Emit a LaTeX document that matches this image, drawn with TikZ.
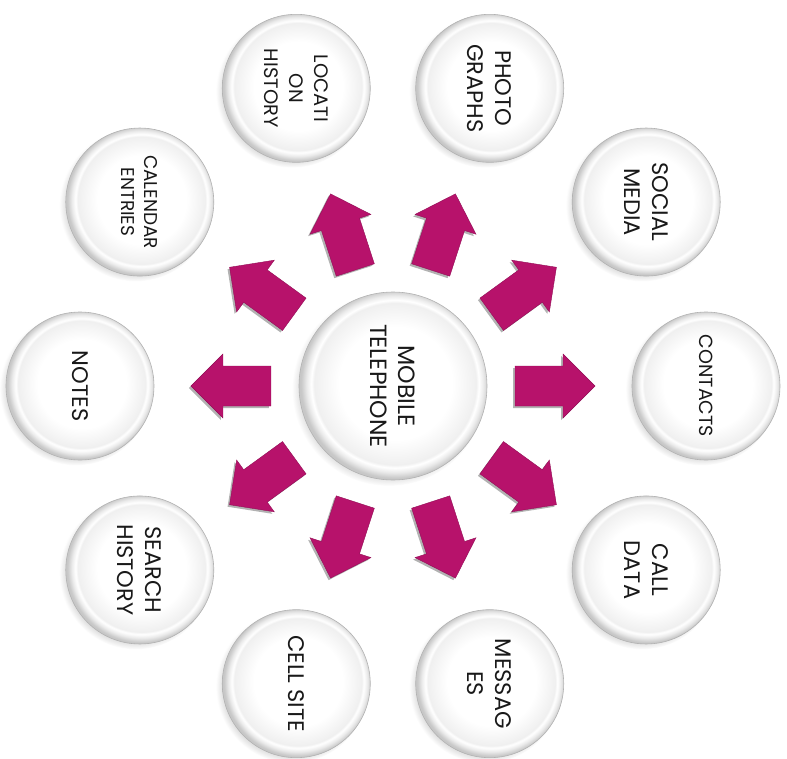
\documentclass[tikz,border=0pt]{standalone}
\usepackage{fontspec}
\setmainfont{Poppins}
\usetikzlibrary{shadows,shadings}

\definecolor{pushpink}{RGB}{183,18,107}
\pgfdeclareradialshading{button}{\pgfpoint{1bp}{1bp}}{color(0bp)=(white); color(15bp)=(white); color(21.5bp)=(black!6); color(22.3bp)=(white); color(23.5bp)=(black!8); color(25bp)=(black!22); color(50bp)=(black!22)}

\tikzset{
  pics/push/.style={code={
    \fill[black,opacity=.3,xshift=-2pt,yshift=-2pt,rotate=#1]
      (-40,-20) -- (8,-20) -- (8,-32) -- (40,0) -- (8,32) -- (8,20) -- (-40,20) -- cycle;
    \filldraw[fill=pushpink,draw=pushpink!80!black,line width=.4pt,rotate=#1]
      (-40,-20) -- (8,-20) -- (8,-32) -- (40,0) -- (8,32) -- (8,20) -- (-40,20) -- cycle;
  }}
}

\begin{document}
\begin{tikzpicture}[x=1pt,y=1pt,
  button/.style={circle,inner sep=0pt,draw=black!30,line width=.6pt,shading=button,
    circular drop shadow={shadow xshift=-4pt,shadow yshift=-3pt,shadow scale=1.03,opacity=.4}},
  hub/.style={button,minimum size=188pt},
  item/.style={button,minimum size=148pt},
  caption/.style={rotate=-90,align=center,text=black!90,inner sep=0pt}]

\useasboundingbox (-393,-372) rectangle (394,386);

\node[hub] (phone) at (0,0) {};
\node[caption,font=\fontsize{23.5}{28}\selectfont] (phone-txt) at (phone) {MOBILE\\TELEPHONE};

% data sources round the phone
\foreach \a/\n/\t/\s/\b in {
    0/contacts/CONTACTS/19/23,
    36/social/{SOCIAL\\MEDIA}/22.5/28,
    72/photos/{PHOTO\\GRAPHS}/22.5/28,
    108/location/{LOCATI\\ON\\HISTORY}/19.5/25,
    144/calendar/{CALENDAR\\ENTRIES}/18.5/23,
    180/notes/NOTES/22.5/28,
    216/search/{SEARCH\\HISTORY}/22.5/28,
    252/cellsite/{CELL SITE}/22.5/28,
    288/messages/{MESSAG\\ES}/22.5/28,
    324/calldata/{CALL\\DATA}/22.5/28}{
  \node[item] (\n) at (\a:313) {};
  \node[caption,font=\fontsize{\s}{\b}\selectfont] (\n-txt) at (\n) {\t};
}

% arrows
\foreach \a in {0,36,...,324}
  \pic (push\a) at (\a:162) {push=\a};

\end{tikzpicture}
\end{document}
